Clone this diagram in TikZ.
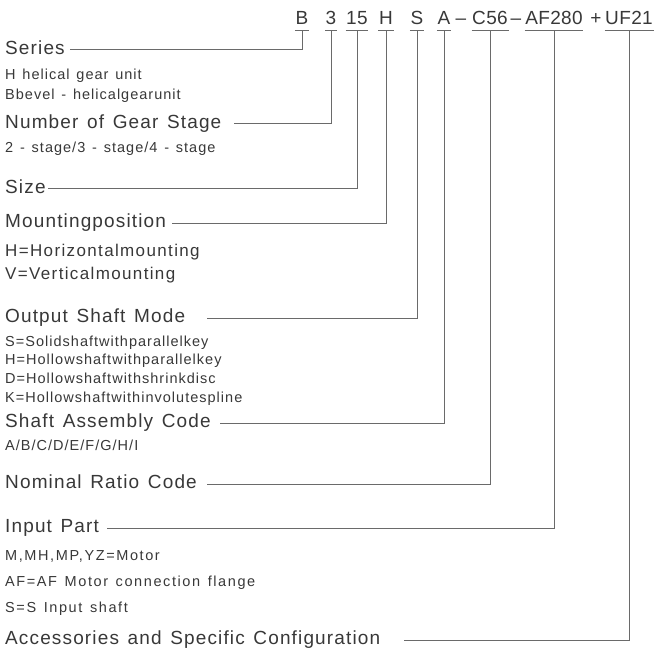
\documentclass[tikz,border=0pt]{standalone}
\usepackage{fontspec}
\setmainfont{Liberation Sans}[LetterSpace=6, WordSpace=1.35]
\usetikzlibrary{positioning}
\definecolor{geartext}{HTML}{383838}
\definecolor{gearrule}{HTML}{6A6A6A}
\tikzset{
    gear_code/.style={
        font=\fontsize{19}{19}\selectfont\addfontfeature{LetterSpace=2},
        text=geartext,
        inner xsep=0.5pt,
        inner ysep=0pt,
        text height=13pt,
        text depth=5pt,
        anchor=base
    },
    gear_head/.style={
        font=\fontsize{19}{21}\selectfont,
        text=geartext,
        inner sep=0pt,
        text height=13pt,
        text depth=4.4pt,
        anchor=west
    },
    gear_mid/.style={
        font=\fontsize{17}{19}\selectfont\addfontfeature{LetterSpace=8},
        text=geartext,
        inner sep=0pt,
        text height=14pt,
        text depth=2pt
    },
    gear_sub/.style={
        font=\fontsize{14.5}{16}\selectfont\addfontfeature{LetterSpace=7},
        text=geartext,
        inner sep=0pt,
        text height=12pt,
        text depth=2pt
    },
    gear_wide/.style={
        gear_sub,
        font=\fontsize{14.5}{16}\selectfont\addfontfeature{LetterSpace=11}
    },
    gear_rule/.style={
        draw=gearrule,
        line width=1pt
    }
}

\begin{document}
\begin{tikzpicture}[x=1pt, y=-1pt]
\useasboundingbox (0,0) rectangle (660,652);

% Type code
\node[gear_code] (cB) at (302,25) {B};
\node[gear_code] (c3) at (331,25) {3};
\node[gear_code] (c15) at (357,25) {15};
\node[gear_code] (cH) at (386,25) {H};
\node[gear_code] (cS) at (417,25) {S};
\node[gear_code] (cA) at (444,25) {A};
\node[gear_code] (dashA) at (461,25) {–};
\node[gear_code] (cC56) at (490,25) {C56};
\node[gear_code] (dashB) at (516,25) {–};
\node[gear_code] (cAF) at (554,25) {AF280};
\node[gear_code] (plus) at (596,25) {+};
\node[gear_code] (cUF) at (629,25) {UF21};
\foreach \c in {cB,c3,c15,cH,cS,cA,cC56,cAF,cUF}
    \draw[gear_rule] (\c.south west) -- (\c.south east);

% Series
\node[gear_head] (Series) at (5,50) {Series};
\node[gear_sub, below right=8.3pt and 0pt of Series.south west] (SeriesH)
    {H helical gear unit};
\node[gear_sub, below right=6pt and 0pt of SeriesH.south west] (SeriesB)
    {Bbevel - helicalgearunit};

% Gear stages and size
\node[gear_head] (Stage) at (5,124) {Number of Gear Stage};
\node[gear_sub, below right=7.3pt and 0pt of Stage.south west] (StageList)
    {2 - stage/3 - stage/4 - stage};
\node[gear_head] (Size) at (5,189) {Size};

% Mounting
\node[gear_head] (Mounting) at (5,223) {Mountingposition};
\node[gear_mid, below right=10.3pt and 0pt of Mounting.south west] (MountH)
    {H=Horizontalmounting};
\node[gear_mid, below right=7pt and 0pt of MountH.south west] (MountV)
    {V=Verticalmounting};

% Output shaft
\node[gear_head] (Output) at (5,318) {Output Shaft Mode};
\node[gear_sub, below right=7.3pt and 0pt of Output.south west] (OutS)
    {S=Solidshaftwithparallelkey};
\node[gear_sub, below right=4pt and 0pt of OutS.south west] (OutH)
    {H=Hollowshaftwithparallelkey};
\node[gear_sub, below right=4pt and 0pt of OutH.south west] (OutD)
    {D=Hollowshaftwithshrinkdisc};
\node[gear_sub, below right=5pt and 0pt of OutD.south west] (OutK)
    {K=Hollowshaftwithinvolutespline};

% Assembly and ratio
\node[gear_head] (Assembly) at (5,423) {Shaft Assembly Code};
\node[gear_sub, below right=6.3pt and 0pt of Assembly.south west] (AssemblyList)
    {A/B/C/D/E/F/G/H/I};
\node[gear_head] (Ratio) at (5,484) {Nominal Ratio Code};

% Input part
\node[gear_head] (Input) at (5,528) {Input Part};
\node[gear_wide, below right=11.3pt and 0pt of Input.south west] (InMotor)
    {M,MH,MP,YZ=Motor};
\node[gear_wide, below right=12pt and 0pt of InMotor.south west] (InFlange)
    {AF=AF Motor connection flange};
\node[gear_wide, below right=11pt and 0pt of InFlange.south west] (InShaft)
    {S=S Input shaft};

% Accessories
\node[gear_head] (Accessories) at (5,640) {Accessories and Specific Configuration};

% Connectors
\draw[gear_rule, shorten >=5pt] (cB.south) |- (Series.east);
\draw[gear_rule, shorten >=12pt] (c3.south) |- (Stage.east);
\draw[gear_rule, shorten >=2pt] (c15.south) |- (Size.east);
\draw[gear_rule, shorten >=6pt] (cH.south) |- (Mounting.east);
\draw[gear_rule, shorten >=22pt] (cS.south) |- (Output.east);
\draw[gear_rule, shorten >=9pt] (cA.south) |- (Assembly.east);
\draw[gear_rule, shorten >=10pt] (cC56.south) |- (Ratio.east);
\draw[gear_rule, shorten >=8pt] (cAF.south) |- (Input.east);
\draw[gear_rule, shorten >=24pt] (cUF.south) |- (Accessories.east);

\end{tikzpicture}
\end{document}
